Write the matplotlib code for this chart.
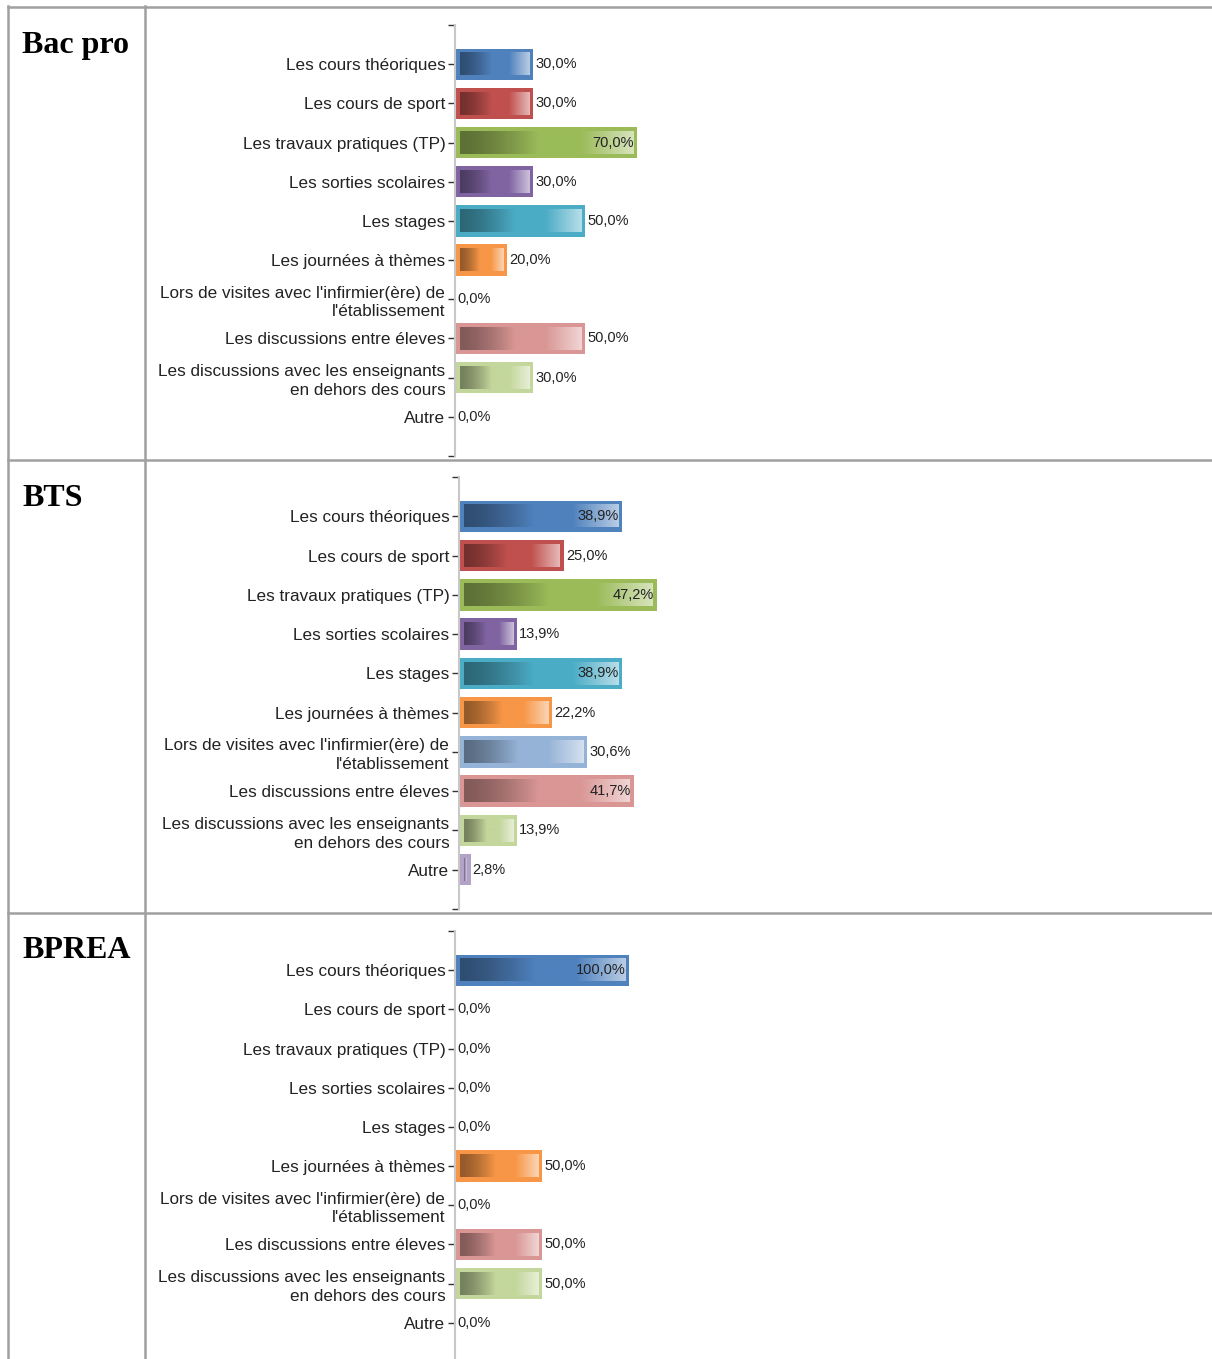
import matplotlib
matplotlib.use("Agg")
from matplotlib import pyplot as plt
from matplotlib.colors import to_rgb
import numpy as np

plt.rcParams["font.family"] = ["Liberation Sans", "DejaVu Sans"]

# Categories (top to bottom) and their bar colours
categories = [
    "Les cours théoriques",
    "Les cours de sport",
    "Les travaux pratiques (TP)",
    "Les sorties scolaires",
    "Les stages",
    "Les journées à thèmes",
    "Lors de visites avec l'infirmier(ère) de\nl'établissement",
    "Les discussions entre éleves",
    "Les discussions avec les enseignants\nen dehors des cours",
    "Autre",
]
colors = ["#4F81BD", "#C0504D", "#9BBB59", "#8064A2", "#4BACC6",
          "#F79646", "#95B3D7", "#D99694", "#C3D69B", "#B3A2C7"]

# Percentages per group
groups = ["Bac pro", "BTS", "BPREA"]
bac_pro = [30.0, 30.0, 70.0, 30.0, 50.0, 20.0, 0.0, 50.0, 30.0, 0.0]
bts = [38.9, 25.0, 47.2, 13.9, 38.9, 22.2, 30.6, 41.7, 13.9, 2.8]
bprea = [100.0, 0.0, 0.0, 0.0, 0.0, 50.0, 0.0, 50.0, 50.0, 0.0]
values = [bac_pro, bts, bprea]

W, H = 1212, 1359
fig = plt.figure(figsize=(W / 100, H / 100), dpi=100)

# axes boxes in pixels: left, top, right, bottom ; x max of each axis
boxes = [(455, 25, 1200, 456), (459, 477, 1200, 909), (455, 931, 1200, 1362)]
xmaxs = [286.5, 176.8, 428.0]
row_tops = [7, 460, 913]

grid = "#a0a0a0"


def shade(c, t):
    base = np.array(to_rgb(c))
    dark = base * 0.6
    light = base + (1 - base) * 0.6
    if t < 0.45:
        return dark + (base - dark) * (t / 0.45) ** 1.5
    if t < 0.7:
        return base
    return base + (light - base) * ((t - 0.7) / 0.3)


def draw_panel(ax, vals, xmax, px_w, px_h):
    n = len(vals)
    ppx = px_w / xmax          # pixels per percent
    ppy = px_h / (n + 1)       # pixels per category
    h = 0.8
    padx, pady = 4.5 / ppx, 4.5 / ppy
    for i, (v, c) in enumerate(zip(vals, colors)):
        if v > 0:
            ax.barh(i, v, height=h, color=c, edgecolor="none", zorder=2)
            t = np.linspace(0, 1, 200)
            grad = np.array([shade(c, k) for k in t])[None, :, :]
            x0, x1 = padx, max(v - padx, padx + 0.3 / ppx)
            ax.imshow(grad, extent=(x0, x1, i + h / 2 - pady, i - h / 2 + pady),
                      aspect="auto", interpolation="bilinear", zorder=3)
        txt = f"{v:.1f}%".replace(".", ",")
        if v * ppx > 150:
            ax.text(v - 3 / ppx, i, txt, ha="right", va="center",
                    fontsize=10.5, color="#222222", zorder=4)
        else:
            ax.text(v + 2 / ppx, i, txt, ha="left", va="center",
                    fontsize=10.5, color="#222222", zorder=4)
    ax.set_xlim(0, xmax)
    ax.set_ylim(n, -1)
    ax.set_yticks(range(n))
    ax.set_yticklabels(categories, fontsize=12.3, color="#222222",
                       linespacing=1.3)
    ax.set_yticks([-1, n], minor=True)
    ax.tick_params(axis="y", which="both", length=5, width=1, pad=2,
                   color="#333333", direction="out")
    ax.set_xticks([])
    for s in ["top", "right", "bottom"]:
        ax.spines[s].set_visible(False)
    ax.spines["left"].set_color("#c8c8c8")
    ax.spines["left"].set_linewidth(1.5)


for g, vals, (l, t, r, b), xmax in zip(groups, values, boxes, xmaxs):
    ax = fig.add_axes([l / W, 1 - b / H, (r - l) / W, (b - t) / H])
    draw_panel(ax, vals, xmax, r - l, b - t)

# table frame around the three rows
for y in row_tops:
    fig.add_artist(plt.Line2D([8 / W, 1], [1 - y / H] * 2, color=grid, lw=1.8))
for x in (8, 145):
    fig.add_artist(plt.Line2D([x / W] * 2, [1 - 6 / H, 0], color=grid, lw=1.8))
for g, y in zip(groups, row_tops):
    fig.text(22 / W, 1 - (y + 38) / H, g, fontsize=23, fontweight="bold",
             family="Liberation Serif", va="center", ha="left")

fig.savefig("out.png", dpi=100)
